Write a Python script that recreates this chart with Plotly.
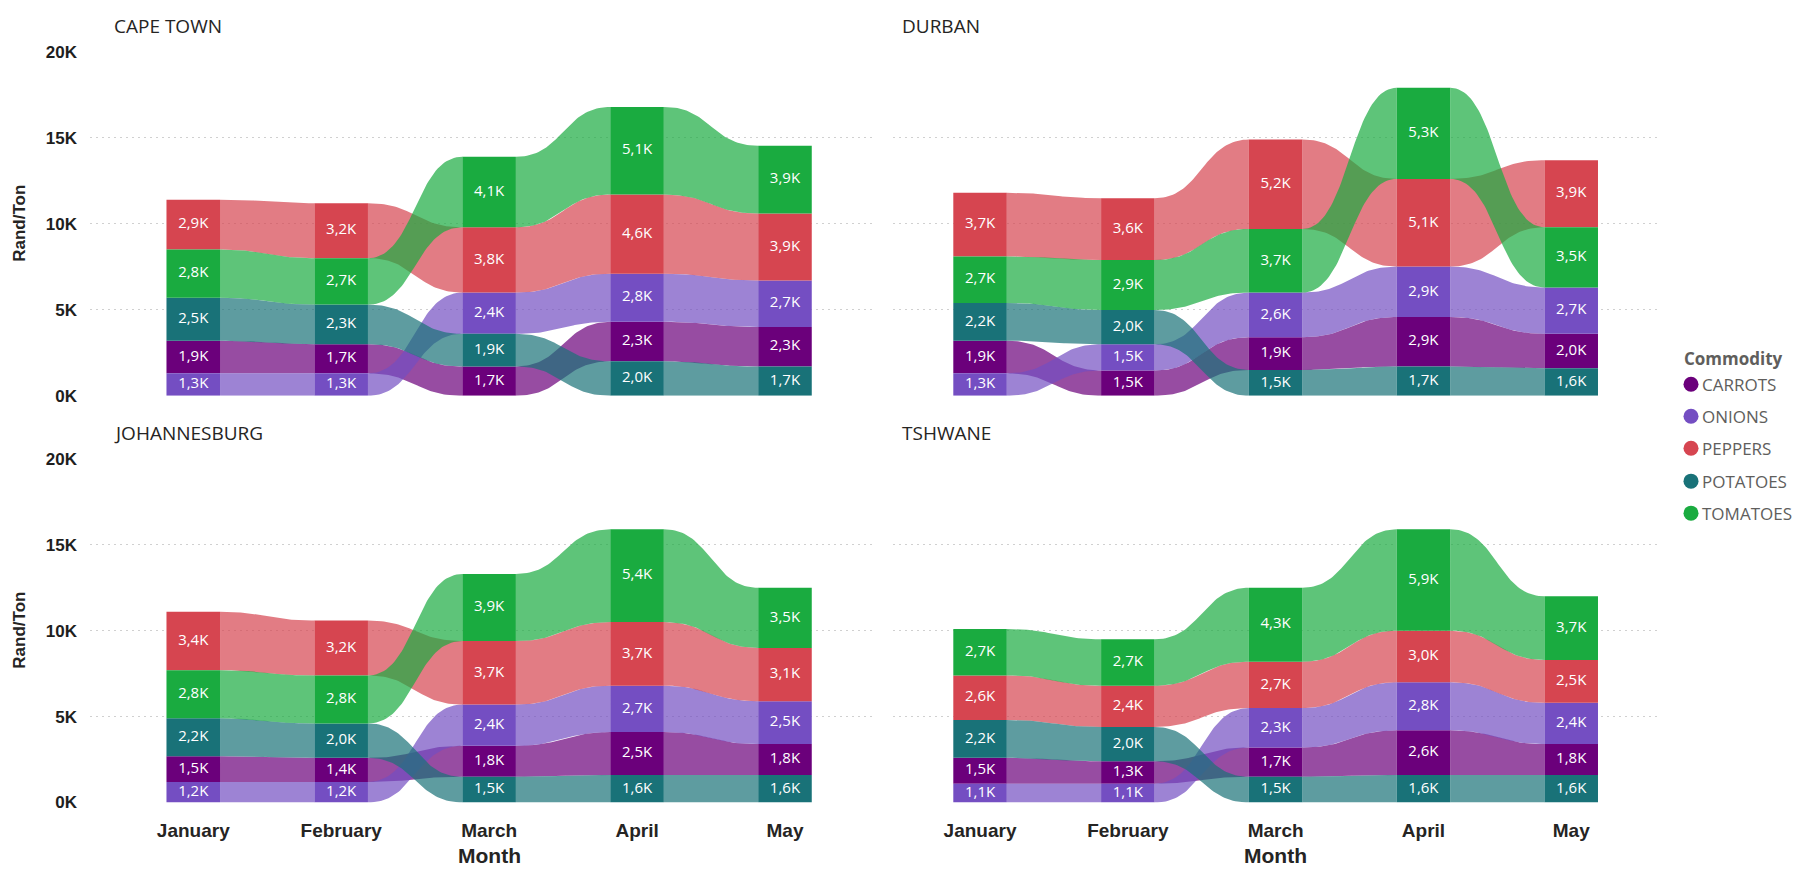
import numpy as np
import plotly.graph_objects as go

# ---------------------------------------------------------------- data
months = ["January", "February", "March", "April", "May"]
commodities = ["CARROTS", "ONIONS", "PEPPERS", "POTATOES", "TOMATOES"]
commodity_colors = ["#6B007B", "#744EC2", "#D64550", "#197278", "#1AAB40"]
cities = ["CAPE TOWN", "DURBAN", "JOHANNESBURG", "TSHWANE"]

# Rand/Ton, January..May
cape_town_carrots = [1900, 1700, 1700, 2300, 2300]
cape_town_onions = [1300, 1300, 2400, 2800, 2700]
cape_town_peppers = [2900, 3200, 3800, 4600, 3900]
cape_town_potatoes = [2500, 2300, 1900, 2000, 1700]
cape_town_tomatoes = [2800, 2700, 4100, 5100, 3940]

durban_carrots = [1900, 1470, 1900, 2880, 2000]
durban_onions = [1300, 1520, 2600, 2930, 2700]
durban_peppers = [3700, 3600, 5200, 5100, 3900]
durban_potatoes = [2200, 2000, 1500, 1700, 1600]
durban_tomatoes = [2700, 2900, 3700, 5300, 3500]

johannesburg_carrots = [1500, 1400, 1800, 2500, 1800]
johannesburg_onions = [1200, 1200, 2400, 2700, 2500]
johannesburg_peppers = [3400, 3200, 3700, 3700, 3100]
johannesburg_potatoes = [2200, 2000, 1500, 1600, 1600]
johannesburg_tomatoes = [2800, 2790, 3900, 5400, 3500]

tshwane_carrots = [1500, 1300, 1700, 2600, 1800]
tshwane_onions = [1100, 1100, 2300, 2800, 2400]
tshwane_peppers = [2600, 2400, 2700, 3000, 2500]
tshwane_potatoes = [2200, 2000, 1500, 1600, 1600]
tshwane_tomatoes = [2700, 2700, 4300, 5900, 3700]

y_tick_vals = [0, 5000, 10000, 15000, 20000]
y_tick_text = ["0K", "5K", "10K", "15K", "20K"]

city_series = [
    [cape_town_carrots, cape_town_onions, cape_town_peppers, cape_town_potatoes, cape_town_tomatoes],
    [durban_carrots, durban_onions, durban_peppers, durban_potatoes, durban_tomatoes],
    [johannesburg_carrots, johannesburg_onions, johannesburg_peppers, johannesburg_potatoes, johannesburg_tomatoes],
    [tshwane_carrots, tshwane_onions, tshwane_peppers, tshwane_potatoes, tshwane_tomatoes],
]

# ---------------------------------------------------------------- layout geometry (pixels)
W, H = 1798, 873
BAR_W = 0.362
RIBBON_ALPHA = 0.7
# vertical placement: page rows are laid out on a slightly taller canvas
V_OFF, V_SCALE = 7.6, 0.9787


def px_x(p):
    return p / W


def px_y(p):
    """Paper y for a screen row p."""
    return 1 - ((p - V_OFF) / V_SCALE) / H


col_domains = [[px_x(90), px_x(873)], [px_x(893), px_x(1658)]]
row_domains = [[px_y(394.5), px_y(50.5)], [px_y(801.5), px_y(457.7)]]
col_ranges = [[-0.698, 4.595], [-0.589, 4.587]]
title_pos = [(112, 25), (900, 25), (112, 432), (900, 432)]


def rgba(hex_color, a):
    h = hex_color.lstrip("#")
    r, g, b = int(h[0:2], 16), int(h[2:4], 16), int(h[4:6], 16)
    return f"rgba({r},{g},{b},{a})"


def fmt_k(v):
    return f"{v / 1000:.1f}K".replace(".", ",")


def s_curve(x0, y0, x1, y1, n=48):
    """Cubic Bezier with horizontal tangents at both ends."""
    t = np.linspace(0, 1, n)
    d = x1 - x0
    px = [x0, x0 + d / 2, x1 - d / 2, x1]
    py = [y0, y0, y1, y1]
    c = [(1 - t) ** 3, 3 * (1 - t) ** 2 * t, 3 * (1 - t) * t ** 2, t ** 3]
    bx = sum(ci * p for ci, p in zip(c, px))
    by = sum(ci * p for ci, p in zip(c, py))
    return bx, by


fig = go.Figure()

for k, (city, series) in enumerate(zip(cities, city_series)):
    row, col = divmod(k, 2)
    ax = "" if k == 0 else str(k + 1)
    xref, yref = "x" + ax, "y" + ax
    n_m = len(months)
    vals = np.array(series, dtype=float)  # commodity x month

    # stack: smallest value at the bottom in every month
    bottoms = np.zeros_like(vals)
    for m in range(n_m):
        order = np.argsort(vals[:, m], kind="stable")
        acc = 0.0
        for ci in order:
            bottoms[ci, m] = acc
            acc += vals[ci, m]

    tops = bottoms + vals

    # ribbons between consecutive months
    for ci, color in enumerate(commodity_colors):
        for m in range(n_m - 1):
            xa, xb = m + BAR_W / 2, m + 1 - BAR_W / 2
            tx, ty = s_curve(xa, tops[ci, m], xb, tops[ci, m + 1])
            bx, by = s_curve(xa, bottoms[ci, m], xb, bottoms[ci, m + 1])
            xs = np.concatenate([tx, bx[::-1], tx[:1]])
            ys = np.concatenate([ty, by[::-1], ty[:1]])
            fig.add_trace(go.Scatter(
                x=xs, y=ys, mode="lines", fill="toself",
                fillcolor=rgba(color, RIBBON_ALPHA), line=dict(width=0),
                hoverinfo="skip", showlegend=False, xaxis=xref, yaxis=yref,
            ))

    # stacked bars
    for ci, color in enumerate(commodity_colors):
        fig.add_trace(go.Bar(
            x=list(range(n_m)), y=vals[ci], base=bottoms[ci], width=BAR_W,
            marker=dict(color=color, line=dict(width=0)),
            name=commodities[ci], showlegend=False, hoverinfo="skip",
            xaxis=xref, yaxis=yref,
        ))

    # value labels
    for ci in range(len(commodities)):
        fig.add_trace(go.Scatter(
            x=list(range(n_m)), y=bottoms[ci] + vals[ci] / 2, mode="text",
            text=[fmt_k(v) for v in vals[ci]],
            textfont=dict(color="white", size=15, family="Open Sans"),
            hoverinfo="skip", showlegend=False, xaxis=xref, yaxis=yref,
        ))

    grid = dict(showgrid=True, gridcolor="#D0D0D0", gridwidth=1, griddash="2px,4px")
    fig.layout["xaxis" + ax] = dict(
        domain=col_domains[col], range=col_ranges[col], anchor=yref,
        tickvals=list(range(n_m)), ticktext=months,
        showticklabels=(row == 1), showgrid=False, zeroline=False, showline=False,
        ticks="", ticklabelstandoff=14,
        tickfont=dict(family="Liberation Sans", size=19, color="#252423", weight="bold"),
        fixedrange=True,
    )
    fig.layout["yaxis" + ax] = dict(
        domain=row_domains[row], range=[0, 20000], anchor=xref,
        tickvals=y_tick_vals, ticktext=y_tick_text,
        showticklabels=(col == 0), zeroline=False, showline=False,
        ticks="", ticklabelstandoff=12,
        tickfont=dict(family="Liberation Sans", size=17, color="#1E1E1E", weight="bold"),
        fixedrange=True, **grid,
    )

    # panel title
    tx_, ty_ = title_pos[k]
    fig.add_annotation(
        x=px_x(tx_), y=px_y(ty_), xref="paper", yref="paper",
        xanchor="left", yanchor="middle", showarrow=False, text=city,
        font=dict(family="Open Sans", size=19, color="#252423"),
    )

    if row == 1:
        fig.add_annotation(
            x=2, y=1 - 865 / H, xref=xref, yref="paper",
            xanchor="center", yanchor="middle", showarrow=False, text="Month",
            font=dict(family="Liberation Sans", size=21, color="#252423", weight="bold"),
        )
    if col == 0:
        fig.add_annotation(
            x=px_x(20), y=(row_domains[row][0] + row_domains[row][1]) / 2,
            xref="paper", yref="paper", textangle=-90,
            xanchor="center", yanchor="middle", showarrow=False, text="Rand/Ton",
            font=dict(family="Liberation Sans", size=17, color="#252423", weight="bold"),
        )

# legend
fig.add_annotation(
    x=px_x(1682), y=px_y(357), xref="paper", yref="paper",
    xanchor="left", yanchor="middle", showarrow=False, text="Commodity",
    font=dict(family="Open Sans", size=17, color="#605E5C", weight="bold"),
)
legend_rows = [383, 415, 447, 480, 512]
for name, color, yy in zip(commodities, commodity_colors, legend_rows):
    fig.add_shape(
        type="circle", xref="paper", yref="paper",
        xsizemode="pixel", ysizemode="pixel",
        xanchor=px_x(1691), yanchor=px_y(yy),
        x0=-7.5, x1=7.5, y0=-7.5, y1=7.5,
        fillcolor=color, line=dict(width=0),
    )
    fig.add_annotation(
        x=px_x(1700), y=px_y(yy), xref="paper", yref="paper",
        xanchor="left", yanchor="middle", showarrow=False, text=name,
        font=dict(family="Open Sans", size=17, color="#605E5C"),
    )

fig.update_layout(
    width=W, height=H, margin=dict(l=0, r=0, t=0, b=0),
    paper_bgcolor="white", plot_bgcolor="white",
    barmode="overlay", showlegend=False, hovermode=False,
)

fig.write_html("out.html")
